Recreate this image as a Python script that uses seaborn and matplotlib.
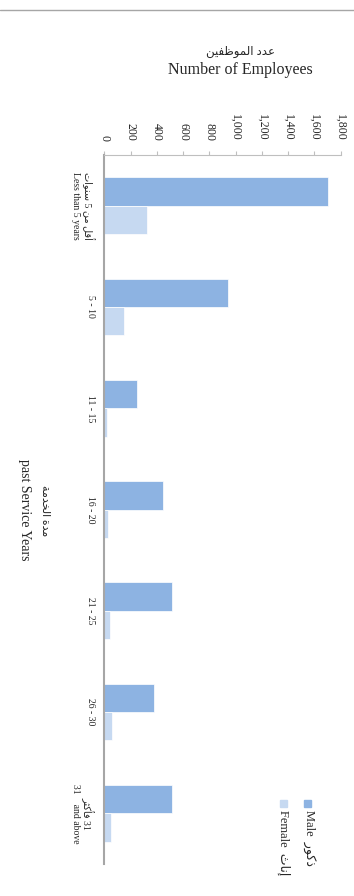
import pandas as pd
import matplotlib.pyplot as plt
from matplotlib.patches import Rectangle
from matplotlib.lines import Line2D
import seaborn as sns

# Data
periods = ["Less than 5 years", "5 - 10", "11 - 15", "16 - 20", "21 - 25", "26 - 30", "31 and above"]
period_labels_ar = ["أقل من 5 سنوات", "", "", "", "", "", "31 فأكثر"]
period_labels_en = ["Less than 5 years", "5 - 10", "11 - 15", "16 - 20", "21 - 25", "26 - 30", "31    and above"]
male = [1705, 945, 250, 445, 518, 380, 512]
female = [325, 152, 18, 30, 42, 62, 48]
value_ticks = list(range(0, 2000, 200))

colors = {"Male": "#8DB3E2", "Female": "#C6D9F1"}

# matplotlib does no Arabic shaping, so map letters to presentation forms
# (isolated, final, initial, medial) and put them in visual order
AR_FORMS = {
    'ا': ('\ufe8d', '\ufe8e', None, None),
    'أ': ('\ufe83', '\ufe84', None, None),
    'إ': ('\ufe87', '\ufe88', None, None),
    'ت': ('\ufe95', '\ufe96', '\ufe97', '\ufe98'),
    'ث': ('\ufe99', '\ufe9a', '\ufe9b', '\ufe9c'),
    'خ': ('\ufea5', '\ufea6', '\ufea7', '\ufea8'),
    'د': ('\ufea9', '\ufeaa', None, None),
    'ذ': ('\ufeab', '\ufeac', None, None),
    'ر': ('\ufead', '\ufeae', None, None),
    'س': ('\ufeb1', '\ufeb2', '\ufeb3', '\ufeb4'),
    'ظ': ('\ufec5', '\ufec6', '\ufec7', '\ufec8'),
    'ع': ('\ufec9', '\ufeca', '\ufecb', '\ufecc'),
    'ف': ('\ufed1', '\ufed2', '\ufed3', '\ufed4'),
    'ق': ('\ufed5', '\ufed6', '\ufed7', '\ufed8'),
    'ك': ('\ufed9', '\ufeda', '\ufedb', '\ufedc'),
    'ل': ('\ufedd', '\ufede', '\ufedf', '\ufee0'),
    'م': ('\ufee1', '\ufee2', '\ufee3', '\ufee4'),
    'ن': ('\ufee5', '\ufee6', '\ufee7', '\ufee8'),
    'ة': ('\ufe93', '\ufe94', None, None),
    'و': ('\ufeed', '\ufeee', None, None),
    'ي': ('\ufef1', '\ufef2', '\ufef3', '\ufef4'),
}


def shape_word(word):
    out = []
    for i, ch in enumerate(word):
        f = AR_FORMS.get(ch)
        if f is None:
            out.append(ch)
            continue
        prev = AR_FORMS.get(word[i - 1]) if i > 0 else None
        nxt = AR_FORMS.get(word[i + 1]) if i + 1 < len(word) else None
        join_prev = prev is not None and prev[2] is not None
        join_next = nxt is not None and f[2] is not None
        if join_prev and join_next:
            out.append(f[3])
        elif join_prev:
            out.append(f[1])
        elif join_next:
            out.append(f[2])
        else:
            out.append(f[0])
    return ''.join(reversed(out))


def rtl(text):
    words = text.split(' ')
    return ' '.join(shape_word(w) if any(c in AR_FORMS for c in w) else w
                    for w in reversed(words))


df = pd.DataFrame({
    "period": periods * 2,
    "count": male + female,
    "gender": ["Male"] * len(periods) + ["Female"] * len(periods),
})

sns.set_style("white")
plt.rcParams['font.family'] = ['Liberation Serif', 'DejaVu Sans']

W, H = 354, 896
fig = plt.figure(figsize=(W / 100, H / 100), dpi=100)
ax = fig.add_axes([104.3 / W, 32 / H, 236.4 / W, 709 / H])

sns.barplot(data=df, x="count", y="period", hue="gender", orient="h",
            palette=colors, saturation=1, width=0.56, edgecolor="white",
            linewidth=0.5, legend=False, ax=ax)

ax.set_xlim(0, 1800)
ax.set_ylim(6.5, -0.5)
ax.set_xlabel("")
ax.set_ylabel("")

# value axis on top, labels turned like the rest of the chart
ax.xaxis.tick_top()
ax.set_xticks(value_ticks)
ax.set_xticklabels([f"{v:,}" for v in value_ticks], rotation=-90, fontsize=8.5)
ax.tick_params(axis="x", direction="out", length=3, width=0.8, color="#bfbfbf", pad=7)

# category axis
ax.set_yticks(range(len(periods)))
ylabels = [rtl(a) + "\n" + e if a else e for a, e in zip(period_labels_ar, period_labels_en)]
ax.set_yticklabels(ylabels, rotation=-90, fontsize=7, va="center", ha="right",
                   multialignment="center")
ax.set_yticks([i - 0.5 for i in range(len(periods) + 1)], minor=True)
ax.tick_params(axis="y", which="major", length=0, pad=7)
ax.tick_params(axis="y", which="minor", length=3, width=0.8, color="#a6a6a6")

for side in ["right", "bottom"]:
    ax.spines[side].set_visible(False)
ax.spines["top"].set_color("#bfbfbf")
ax.spines["top"].set_linewidth(0.8)
ax.spines["left"].set_color("#a6a6a6")
ax.spines["left"].set_linewidth(1.5)

# axis titles
fig.text(240 / W, 1 - 52 / H, rtl("عدد الموظفين"), fontsize=8.5, ha="center", va="center")
fig.text(240 / W, 1 - 70 / H, "Number of Employees", fontsize=11.5, ha="center", va="center")
fig.text(44 / W, 1 - 511 / H, rtl("مدة الخدمة"), fontsize=8, rotation=-90,
         ha="center", va="center")
fig.text(24 / W, 1 - 510 / H, "past Service Years", fontsize=10, rotation=-90,
         ha="center", va="center")

# legend, turned
for gx, name, ar in [(308, "Male", "ذكور"), (284, "Female", "إناث")]:
    fig.add_artist(Rectangle(((gx - 4) / W, 1 - 807 / H), 7 / W, 7 / H,
                             transform=fig.transFigure, color=colors[name]))
    fig.text(gx / W, 1 - 810 / H, name + "  " + rtl(ar), fontsize=9, rotation=-90,
             ha="center", va="top")

# thin rule along the top of the chart area
fig.add_artist(Line2D([0, 1], [1 - 10 / H] * 2, transform=fig.transFigure,
                      color="#a6a6a6", lw=1))

plt.savefig("out.png", dpi=100)
